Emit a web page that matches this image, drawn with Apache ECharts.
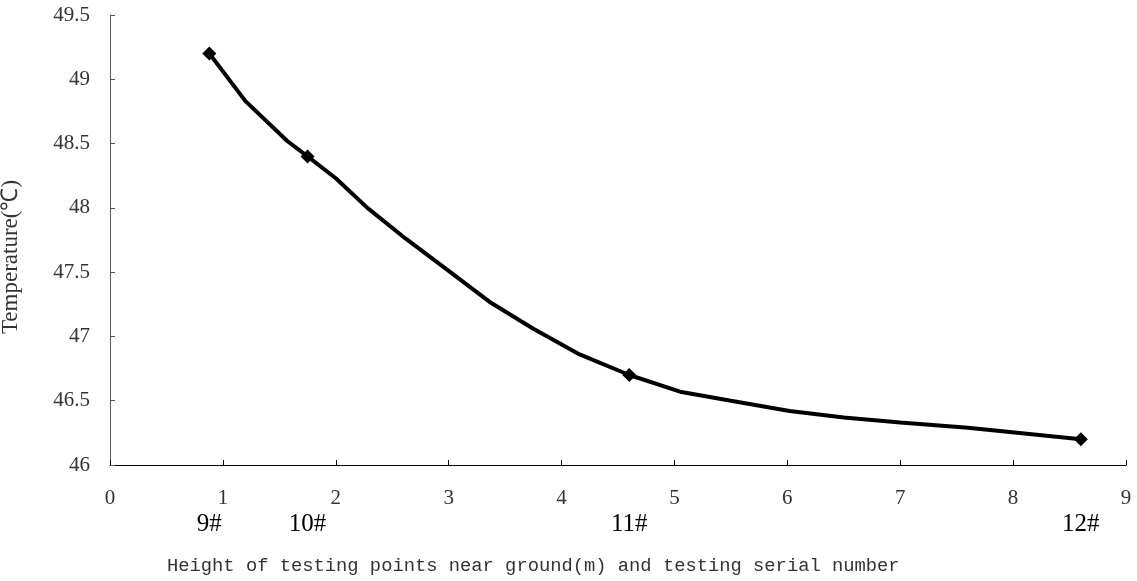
<!DOCTYPE html>
<html>
<head>
<meta charset="utf-8">
<script src="https://cdn.jsdelivr.net/npm/echarts@6/dist/echarts.min.js"></script>
<style>
html,body{margin:0;padding:0;background:#fff;}
#chart{width:1137px;height:581px;}
</style>
</head>
<body>
<div id="chart"></div>
<script>
// Curve vertices (height in m, temperature in °C)
const curveHeights = [0.88, 1.2, 1.57, 1.75, 2.0, 2.28, 2.62, 3.0, 3.36, 3.75, 4.16, 4.6, 5.05, 5.5, 6.02, 6.5, 7.0, 7.6, 8.6];
const curveTemps   = [49.2, 48.83, 48.52, 48.4, 48.23, 48.0, 47.76, 47.51, 47.27, 47.06, 46.86, 46.7, 46.57, 46.5, 46.42, 46.37, 46.33, 46.29, 46.2];
// Measured testing points
const pointHeights = [0.88, 1.75, 4.6, 8.6];
const pointTemps   = [49.2, 48.4, 46.7, 46.2];
const pointNames   = ['9#', '10#', '11#', '12#'];
const xAxisTitle = 'Height of testing points near ground(m) and testing serial number';
const yAxisTitle = 'Temperature(\u2103)';

const curveData = curveHeights.map((h, i) => [h, curveTemps[i]]);
const pointData = pointHeights.map((h, i) => [h, pointTemps[i]]);

const chart = echarts.init(document.getElementById('chart'));
const serif = '"Liberation Serif", "Times New Roman", serif';
chart.setOption({
  animation: false,
  backgroundColor: '#fff',
  grid: { left: 110, right: 11, top: 15, bottom: 116, containLabel: false, outerBoundsMode: 'none' },
  xAxis: [{
    type: 'value', min: 0, max: 9, interval: 1,
    axisLine: { show: true, lineStyle: { color: '#000', width: 1 } },
    axisTick: { show: true, inside: true, length: 5, lineStyle: { color: '#000' } },
    splitLine: { show: false },
    axisLabel: { margin: 23, fontFamily: serif, fontSize: 21, color: '#333' }
  }, {
    type: 'value', min: 0, max: 9, position: 'bottom', offset: 0,
    axisLine: { show: false }, axisTick: { show: false }, splitLine: { show: false },
    axisLabel: {
      customValues: pointHeights,
      margin: 47, fontFamily: serif, fontSize: 25, color: '#000',
      formatter: function (v) {
        const i = pointHeights.findIndex(h => Math.abs(h - v) < 1e-6);
        return i >= 0 ? pointNames[i] : '';
      }
    }
  }],
  yAxis: {
    type: 'value', min: 46, max: 49.5, interval: 0.5,
    name: yAxisTitle, nameLocation: 'middle', nameGap: 88, nameRotate: 90,
    nameTextStyle: { fontFamily: serif, fontSize: 23, color: '#333', padding: [0, 34, 0, 0] },
    axisLine: { show: true, lineStyle: { color: '#555', width: 1 } },
    axisTick: { show: true, inside: true, length: 5, lineStyle: { color: '#555' } },
    splitLine: { show: false },
    axisLabel: { margin: 20, fontFamily: serif, fontSize: 21, color: '#333' }
  },
  graphic: [{
    type: 'text', left: 167, top: 557,
    style: { text: xAxisTitle, font: '18.8px "Liberation Mono", "DejaVu Sans Mono", monospace', fill: '#333' }
  }],
  series: [{
    type: 'line', data: curveData, showSymbol: false, smooth: false,
    lineStyle: { color: '#000', width: 4 }, z: 2
  }, {
    type: 'scatter', data: pointData, symbol: 'diamond', symbolSize: 14,
    itemStyle: { color: '#000', opacity: 1 }, z: 3
  }]
});
</script>
</body>
</html>
